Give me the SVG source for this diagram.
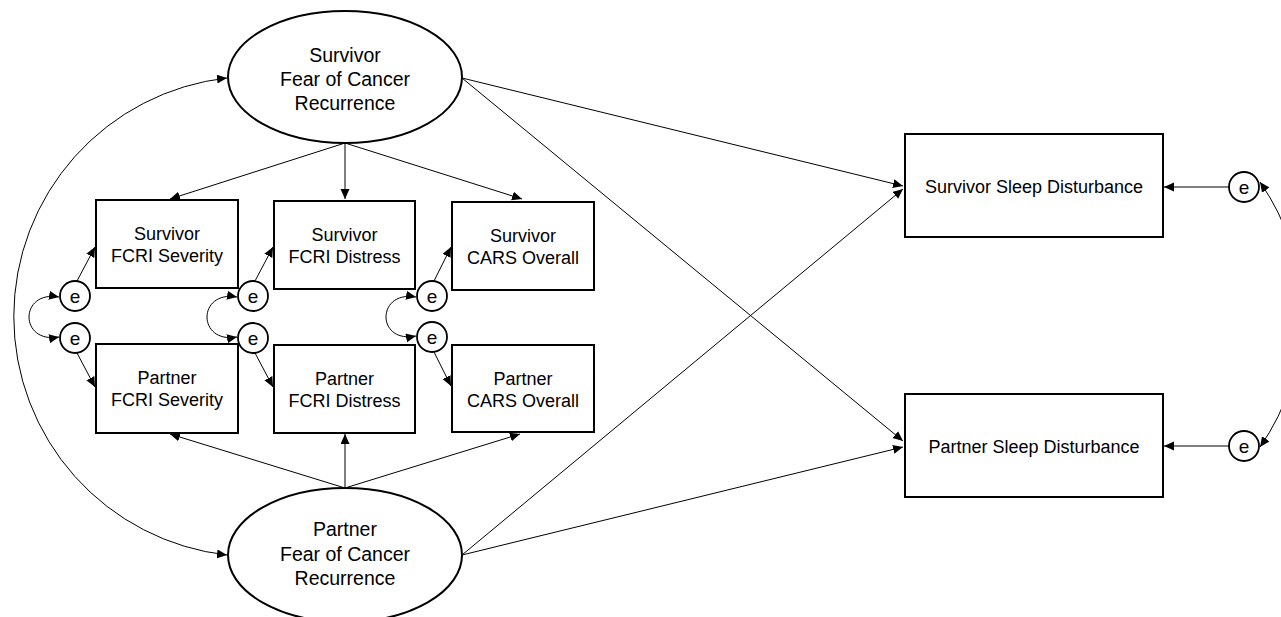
<svg xmlns="http://www.w3.org/2000/svg" width="1281" height="617" viewBox="0 0 1281 617">
<style>
.box{fill:#fff;stroke:#000;stroke-width:2}
.lat{fill:#fff;stroke:#000;stroke-width:2}
.err{fill:#fff;stroke:#000;stroke-width:1.8}
.t{font-family:"Liberation Sans",Arial,sans-serif;font-size:18px;fill:#000;text-anchor:middle}
.tl{font-family:"Liberation Sans",Arial,sans-serif;font-size:19.5px;fill:#000;text-anchor:middle}
.te{font-family:"Liberation Sans",Arial,sans-serif;font-size:19px;fill:#000;text-anchor:middle}
.c{fill:none;stroke:#000;stroke-width:1}
.a{marker-end:url(#ah)}
.b{marker-start:url(#ah);marker-end:url(#ah)}
</style>
<defs>
<marker id="ah" markerUnits="userSpaceOnUse" markerWidth="11" markerHeight="10" refX="10" refY="4.5" orient="auto-start-reverse">
<path d="M0,0 L10,4.5 L0,9 z" fill="#000"/>
</marker>
</defs>
<rect width="1281" height="617" fill="#fff"/>
<g id="connectors">
<path class="c b" d="M 227 78 A 240 240 0 0 0 227 555"/>
<path class="c a" d="M 345 143 L 170 199"/>
<path class="c a" d="M 345 143 L 345 199"/>
<path class="c a" d="M 345 143 L 522 199"/>
<path class="c a" d="M 345 488 L 170 434"/>
<path class="c a" d="M 345 488 L 345 434"/>
<path class="c a" d="M 345 488 L 520 434"/>
<path class="c a" d="M 462 78 L 903 186"/>
<path class="c a" d="M 462 78 L 903 441"/>
<path class="c a" d="M 462 555 L 903 189"/>
<path class="c a" d="M 462 555 L 903 447"/>
<path class="c a" d="M 77 281 L 95 247"/>
<path class="c a" d="M 77 353 L 95 387"/>
<path class="c a" d="M 255 281 L 273 247"/>
<path class="c a" d="M 255 353 L 273 387"/>
<path class="c a" d="M 434 281 L 451 247"/>
<path class="c a" d="M 434 352 L 451 386"/>
<path class="c b" d="M 59 297 C 19 290, 19 344, 59 337"/>
<path class="c b" d="M 237 297 C 197 290, 197 344, 237 337"/>
<path class="c b" d="M 416 297 C 376 290, 376 344, 416 336"/>
<path class="c a" d="M 1229 187 L 1164 187"/>
<path class="c a" d="M 1229 446 L 1164 446"/>
<path class="c b" d="M 1260 182 A 231 231 0 0 1 1260 447"/>
</g>
<g id="survivor-fcr">
<ellipse class="lat" cx="345" cy="77" rx="117" ry="66"/>
<text class="tl" x="345" y="62">Survivor</text>
<text class="tl" x="345" y="86">Fear of Cancer</text>
<text class="tl" x="345" y="110">Recurrence</text>
</g>
<g id="partner-fcr">
<ellipse class="lat" cx="345" cy="555" rx="117" ry="67"/>
<text class="tl" x="345" y="536">Partner</text>
<text class="tl" x="345" y="561">Fear of Cancer</text>
<text class="tl" x="345" y="585">Recurrence</text>
</g>
<g id="surv-fcri-sev">
<rect class="box" x="96" y="200" width="142" height="88"/>
<text class="t" x="167" y="240">Survivor</text>
<text class="t" x="167" y="262">FCRI Severity</text>
</g>
<g id="surv-fcri-dis">
<rect class="box" x="274" y="201" width="141" height="88"/>
<text class="t" x="344.5" y="241">Survivor</text>
<text class="t" x="344.5" y="263">FCRI Distress</text>
</g>
<g id="surv-cars">
<rect class="box" x="452" y="202" width="142" height="88"/>
<text class="t" x="523" y="242">Survivor</text>
<text class="t" x="523" y="264">CARS Overall</text>
</g>
<g id="part-fcri-sev">
<rect class="box" x="96" y="344" width="142" height="89"/>
<text class="t" x="167" y="384">Partner</text>
<text class="t" x="167" y="406">FCRI Severity</text>
</g>
<g id="part-fcri-dis">
<rect class="box" x="274" y="345" width="141" height="88"/>
<text class="t" x="344.5" y="385">Partner</text>
<text class="t" x="344.5" y="407">FCRI Distress</text>
</g>
<g id="part-cars">
<rect class="box" x="452" y="345" width="142" height="87"/>
<text class="t" x="523" y="385">Partner</text>
<text class="t" x="523" y="407">CARS Overall</text>
</g>
<g id="surv-sleep">
<rect class="box" x="905" y="134" width="258" height="103"/>
<text class="t" x="1034" y="193">Survivor Sleep Disturbance</text>
</g>
<g id="part-sleep">
<rect class="box" x="905" y="394" width="258" height="103"/>
<text class="t" x="1034" y="453">Partner Sleep Disturbance</text>
</g>
<g id="e-sev-s"><circle class="err" cx="75" cy="296" r="15"/><text class="te" x="75" y="302.5">e</text></g>
<g id="e-sev-p"><circle class="err" cx="75" cy="338" r="15"/><text class="te" x="75" y="344.5">e</text></g>
<g id="e-dis-s"><circle class="err" cx="253" cy="296" r="15"/><text class="te" x="253" y="302.5">e</text></g>
<g id="e-dis-p"><circle class="err" cx="253" cy="338" r="15"/><text class="te" x="253" y="344.5">e</text></g>
<g id="e-cars-s"><circle class="err" cx="432" cy="296" r="15"/><text class="te" x="432" y="302.5">e</text></g>
<g id="e-cars-p"><circle class="err" cx="432" cy="337" r="15"/><text class="te" x="432" y="343.5">e</text></g>
<g id="e-sleep-s"><circle class="err" cx="1244" cy="187" r="15"/><text class="te" x="1244" y="193.5">e</text></g>
<g id="e-sleep-p"><circle class="err" cx="1244" cy="446" r="15"/><text class="te" x="1244" y="452.5">e</text></g>
</svg>
